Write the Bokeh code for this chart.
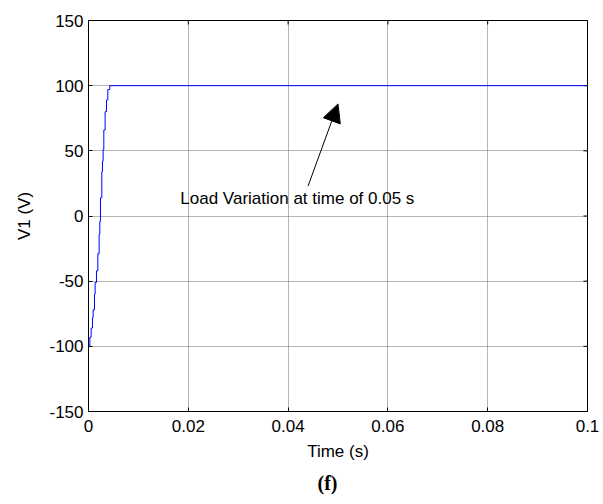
from bokeh.plotting import figure
from bokeh.models import Range1d, FixedTicker, Title, Arrow, NormalHead, Label
from bokeh.embed import file_html
from bokeh.resources import INLINE

# data
time_s = [0.0, 0.00027, 0.00053, 0.0008, 0.00093, 0.0012, 0.00133, 0.0016, 0.00187,
          0.00213, 0.00227, 0.0024, 0.00267, 0.0028, 0.00293, 0.00307, 0.00333,
          0.0036, 0.00387, 0.00427, 0.1]
v1 = [-100, -93, -86, -78, -72, -60, -51, -42, -29, -14, -4, 14, 34, 42, 51, 66,
      80, 89, 97, 100, 100]
x_ticks = [0, 0.02, 0.04, 0.06, 0.08, 0.1]
x_tick_labels = ["0", "0.02", "0.04", "0.06", "0.08", "0.1"]
y_ticks = [-150, -100, -50, 0, 50, 100, 150]
y_tick_labels = ["-150", "-100", "-50", "0", "50", "100", "150"]
annot_text = "Load Variation at time of 0.05 s"
annot_pos = (0.0184, 13.8)
arrow_tail = (0.044, 23)
arrow_head = (0.050, 86)

FONT = "Liberation Sans"
FS = "17px"
X0, X1 = 0, 0.1
Y0, Y1 = -150, 150

p = figure(width=603, height=504, output_backend="svg", toolbar_location=None,
           x_range=Range1d(X0, X1), y_range=Range1d(Y0, Y1),
           min_border_left=88, min_border_right=16, min_border_top=20,
           min_border_bottom=93, x_axis_label="Time (s)", y_axis_label="V1 (V)")
p.background_fill_color = "white"
p.border_fill_color = "white"
p.outline_line_color = "black"
p.outline_line_width = 1

for ax, ticks, labels in ((p.xaxis[0], x_ticks, x_tick_labels), (p.yaxis[0], y_ticks, y_tick_labels)):
    ax.ticker = FixedTicker(ticks=ticks)
    ax.major_label_overrides = {t: l for t, l in zip(ticks, labels)}
    ax.major_label_text_font = FONT
    ax.major_label_text_font_size = FS
    ax.major_label_text_color = "black"
    ax.axis_label_text_font = FONT
    ax.axis_label_text_font_size = FS
    ax.axis_label_text_font_style = "normal"
    ax.axis_label_text_color = "black"
    ax.axis_line_color = "black"
    ax.major_tick_line_color = "black"
    ax.major_tick_in = 4
    ax.major_tick_out = 0
    ax.minor_tick_line_color = None
p.xaxis[0].major_label_standoff = 8
p.xaxis[0].axis_label_standoff = 7
p.yaxis[0].major_label_standoff = 5
p.yaxis[0].axis_label_standoff = 12

for g, ticks in ((p.xgrid[0], x_ticks), (p.ygrid[0], y_ticks)):
    g.grid_line_color = "#6a6a6a"
    g.grid_line_dash = "1 1"
    g.grid_line_width = 1
    g.ticker = FixedTicker(ticks=ticks)

# inward tick marks on the top and right edges (MATLAB box style)
tx = (X1 - X0) * 4 / 499
ty = (Y1 - Y0) * 4 / 391
p.segment(x0=x_ticks, y0=[Y1] * len(x_ticks), x1=x_ticks, y1=[Y1 - ty] * len(x_ticks),
          line_color="black", line_width=1)
p.segment(x0=[X1] * len(y_ticks), y0=y_ticks, x1=[X1 - tx] * len(y_ticks), y1=y_ticks,
          line_color="black", line_width=1)

p.step(time_s, v1, mode="after", line_color="#0000ff", line_width=1)

p.add_layout(Label(x=annot_pos[0], y=annot_pos[1], text=annot_text, text_font=FONT,
                   text_font_size=FS, text_color="black", text_baseline="middle"))
p.add_layout(Arrow(x_start=arrow_tail[0], y_start=arrow_tail[1], x_end=arrow_head[0],
                   y_end=arrow_head[1], line_color="black", line_width=1,
                   end=NormalHead(size=18, fill_color="black", line_color="black")))

p.add_layout(Title(text="(f)", align="left", text_font="Liberation Serif",
                   text_font_size="20px", text_font_style="bold", text_color="black",
                   offset=229, standoff=12), "below")

open("out.html", "w").write(file_html(p, INLINE))
